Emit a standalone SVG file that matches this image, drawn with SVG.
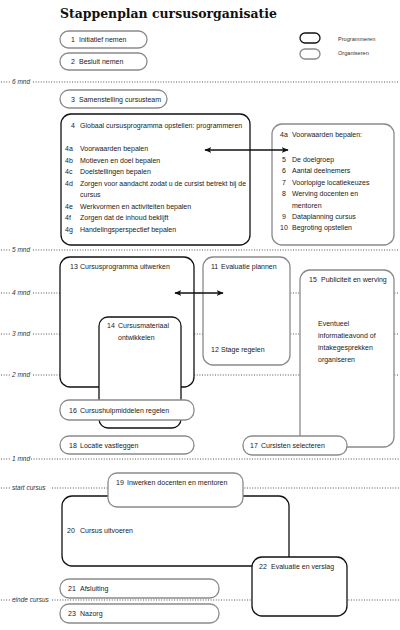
<svg xmlns="http://www.w3.org/2000/svg" width="400" height="630" viewBox="0 0 400 630">
<style>
.t{font-family:"Liberation Sans",Arial,sans-serif;font-size:7px;fill:#1a1a1a}
.lg{font-family:"Liberation Sans",Arial,sans-serif;font-size:5.6px;fill:#333}
.ml{font-family:"Liberation Sans",Arial,sans-serif;font-size:6.5px;font-style:italic;fill:#333}
.dot{stroke:#555;stroke-width:1;stroke-dasharray:1 1.6;fill:none}
.prog{fill:#fff;stroke:#111;stroke-width:1.3}
.org{fill:#fff;stroke:#8a8a8a;stroke-width:1.3}
.arr{stroke:#111;stroke-width:1.5;fill:none;marker-start:url(#ah);marker-end:url(#ah)}
</style>
<defs>
<marker id="ah" viewBox="0 0 10 8" refX="9" refY="4" markerWidth="7" markerHeight="5.6" orient="auto-start-reverse" markerUnits="userSpaceOnUse">
<path d="M0,0 L10,4 L0,8 L2.5,4 Z" fill="#111"/>
</marker>
</defs>
<rect width="400" height="630" fill="#fff"/>
<text x="60" y="17.5" font-family="DejaVu Serif,'Liberation Serif',serif" font-size="13" font-weight="bold" fill="#111" textLength="217" lengthAdjust="spacingAndGlyphs">Stappenplan cursusorganisatie</text>

<g id="legend">
<rect class="prog" x="300" y="33" width="20" height="10" rx="5"/>
<rect class="org" x="300" y="49" width="20" height="10" rx="5"/>
<text class="lg" x="338" y="40.5">Programmeren</text>
<text class="lg" x="338" y="54.5">Organiseren</text>
</g>

<g id="timeline">
<line class="dot" x1="1" y1="82" x2="10" y2="82"/><text class="ml" x="12" y="84.3">6 mnd</text><line class="dot" x1="33" y1="82" x2="399" y2="82"/>
<line class="dot" x1="1" y1="250" x2="10" y2="250"/><text class="ml" x="12" y="252.3">5 mnd</text><line class="dot" x1="33" y1="250" x2="399" y2="250"/>
<line class="dot" x1="1" y1="293" x2="10" y2="293"/><text class="ml" x="12" y="295.3">4 mnd</text><line class="dot" x1="33" y1="293" x2="399" y2="293"/>
<line class="dot" x1="1" y1="334" x2="10" y2="334"/><text class="ml" x="12" y="336.3">3 mnd</text><line class="dot" x1="33" y1="334" x2="399" y2="334"/>
<line class="dot" x1="1" y1="375" x2="10" y2="375"/><text class="ml" x="12" y="377.3">2 mnd</text><line class="dot" x1="33" y1="375" x2="399" y2="375"/>
<line class="dot" x1="1" y1="459" x2="10" y2="459"/><text class="ml" x="12" y="461.3">1 mnd</text><line class="dot" x1="31" y1="459" x2="399" y2="459"/>
<line class="dot" x1="1" y1="488" x2="10" y2="488"/><text class="ml" x="12" y="490.3">start cursus</text><line class="dot" x1="52" y1="488" x2="399" y2="488"/>
<line class="dot" x1="1" y1="600" x2="10" y2="600"/><text class="ml" x="12" y="602.3">einde cursus</text><line class="dot" x1="52" y1="600" x2="399" y2="600"/>
</g>

<g id="n1"><rect class="org" x="60" y="31" width="87" height="17" rx="8.5"/><text class="t" y="42"><tspan x="71">1</tspan><tspan x="79">Initiatief nemen</tspan></text></g>
<g id="n2"><rect class="org" x="60" y="53" width="87" height="17" rx="8.5"/><text class="t" y="64"><tspan x="71">2</tspan><tspan x="79">Besluit nemen</tspan></text></g>
<g id="n3"><rect class="org" x="60" y="90" width="107" height="18" rx="9"/><text class="t" y="101.5"><tspan x="71">3</tspan><tspan x="79">Samenstelling cursusteam</tspan></text></g>

<g id="n4"><rect class="prog" x="61" y="114" width="189" height="131" rx="10"/>
<text class="t" y="128"><tspan x="71">4</tspan><tspan x="80">Globaal cursusprogramma opstellen: programmeren</tspan></text>
<text class="t" y="151"><tspan x="65">4a</tspan><tspan x="80">Voorwaarden bepalen</tspan></text>
<text class="t" y="162.5"><tspan x="65">4b</tspan><tspan x="80">Motieven en doel bepalen</tspan></text>
<text class="t" y="174"><tspan x="65">4c</tspan><tspan x="80">Doelstellingen bepalen</tspan></text>
<text class="t" y="185.5"><tspan x="65">4d</tspan><tspan x="80" textLength="166" lengthAdjust="spacingAndGlyphs">Zorgen voor aandacht zodat u de cursist betrekt bij de</tspan></text>
<text class="t" x="80" y="197">cursus</text>
<text class="t" y="208.5"><tspan x="65">4e</tspan><tspan x="80">Werkvormen en activiteiten bepalen</tspan></text>
<text class="t" y="220"><tspan x="65">4f</tspan><tspan x="80">Zorgen dat de inhoud beklijft</tspan></text>
<text class="t" y="231.5"><tspan x="65">4g</tspan><tspan x="80">Handelingsperspectief bepalen</tspan></text>
</g>

<g id="n4a"><rect class="org" x="272" y="124" width="122" height="121" rx="10"/>
<text class="t" y="137"><tspan x="280">4a</tspan><tspan x="292">Voorwaarden bepalen:</tspan></text>
<text class="t" y="161.5"><tspan x="282">5</tspan><tspan x="292">De doelgroep</tspan></text>
<text class="t" y="173"><tspan x="282">6</tspan><tspan x="292">Aantal deelnemers</tspan></text>
<text class="t" y="184.5"><tspan x="282">7</tspan><tspan x="292">Voorlopige locatiekeuzes</tspan></text>
<text class="t" y="196"><tspan x="282">8</tspan><tspan x="292">Werving docenten en</tspan></text>
<text class="t" x="292" y="207.5">mentoren</text>
<text class="t" y="219"><tspan x="282">9</tspan><tspan x="292">Dataplanning cursus</tspan></text>
<text class="t" y="230"><tspan x="280">10</tspan><tspan x="292">Begroting opstellen</tspan></text>
</g>

<g id="n13"><rect class="prog" x="60" y="257" width="134" height="130" rx="10"/>
<text class="t" y="269"><tspan x="70">13</tspan><tspan x="80">Cursusprogramma uitwerken</tspan></text></g>

<g id="n11"><rect class="org" x="203" y="257" width="87" height="108" rx="10"/>
<text class="t" y="269"><tspan x="211">11</tspan><tspan x="221">Evaluatie plannen</tspan></text>
<text class="t" y="352"><tspan x="211">12</tspan><tspan x="221">Stage regelen</tspan></text></g>

<g id="n14"><rect class="prog" x="99" y="317" width="82" height="111" rx="9"/>
<text class="t" y="328"><tspan x="107">14</tspan><tspan x="118">Cursusmateriaal</tspan></text>
<text class="t" x="118" y="340">ontwikkelen</text></g>

<g id="n16"><rect class="org" x="60" y="400" width="134" height="20" rx="9"/>
<text class="t" y="412.5"><tspan x="69">16</tspan><tspan x="80">Cursushulpmiddelen regelen</tspan></text></g>

<g id="n18"><rect class="org" x="60" y="436" width="134" height="18" rx="9"/>
<text class="t" y="447.5"><tspan x="69">18</tspan><tspan x="80">Locatie vastleggen</tspan></text></g>

<g id="n15"><rect class="org" x="300" y="270" width="94" height="177" rx="10"/>
<text class="t" y="281.5"><tspan x="309">15</tspan><tspan x="321">Publiciteit en werving</tspan></text>
<text class="t" x="318" y="326">Eventueel</text>
<text class="t" x="318" y="338">informatieavond of</text>
<text class="t" x="318" y="350">intakegesprekken</text>
<text class="t" x="318" y="362">organiseren</text></g>

<g id="n17"><rect class="org" x="243" y="436" width="104" height="19" rx="9"/>
<text class="t" y="448"><tspan x="250">17</tspan><tspan x="261">Cursisten selecteren</tspan></text></g>

<g id="n20"><rect class="prog" x="62" y="496" width="227" height="70" rx="10"/>
<text class="t" y="533"><tspan x="67">20</tspan><tspan x="80">Cursus uitvoeren</tspan></text></g>

<g id="n19"><rect class="org" x="108" y="473" width="135" height="34" rx="9"/>
<text class="t" y="485"><tspan x="116">19</tspan><tspan x="127">Inwerken docenten en mentoren</tspan></text></g>

<g id="n22"><rect class="prog" x="252" y="557" width="95" height="59" rx="10"/>
<text class="t" y="569"><tspan x="259">22</tspan><tspan x="271">Evaluatie en verslag</tspan></text></g>

<g id="n21"><rect class="org" x="60" y="579" width="159" height="19" rx="9"/>
<text class="t" y="591"><tspan x="68">21</tspan><tspan x="80">Afsluiting</tspan></text></g>

<g id="n23"><rect class="org" x="60" y="604" width="159" height="19" rx="9"/>
<text class="t" y="616"><tspan x="68">23</tspan><tspan x="80">Nazorg</tspan></text></g>

<g id="connectors">
<line class="arr" x1="205" y1="150" x2="288" y2="150"/>
<line class="arr" x1="175" y1="293" x2="223" y2="293"/>
</g>
</svg>
